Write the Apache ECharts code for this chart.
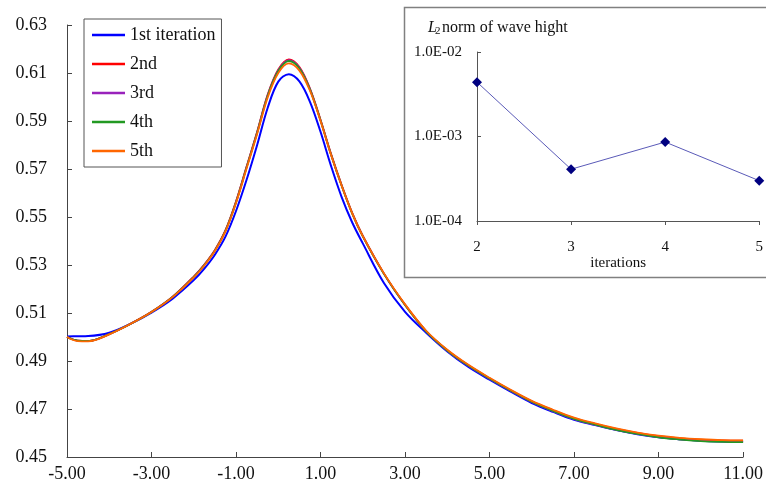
<!DOCTYPE html>
<html>
<head>
<meta charset="utf-8">
<script src="https://cdn.jsdelivr.net/npm/echarts@6/dist/echarts.min.js"></script>
<style>html,body{margin:0;padding:0;background:#fff;}#c{width:766px;height:502px;}</style>
</head>
<body>
<div id="c"></div>
<script>
// ---- main chart data ----
const xs = [-5, -4.75, -4.5, -4, -3.5, -3, -2.5, -2, -1.75, -1.5, -1.25, -1, -0.75, -0.5, -0.25, 0, 0.25, 0.5, 0.75, 1, 1.25, 1.5, 1.75, 2, 2.5, 3, 3.5, 4, 4.5, 5, 5.5, 6, 6.5, 7, 7.5, 8, 8.5, 9, 9.5, 10, 10.5, 11];
const iter1 = [0.5002, 0.5003, 0.5004, 0.5018, 0.5055, 0.5102, 0.5160, 0.5237, 0.5285, 0.5343, 0.5418, 0.5525, 0.5655, 0.5800, 0.5955, 0.6064, 0.6095, 0.6065, 0.5980, 0.5855, 0.5712, 0.5583, 0.5477, 0.5390, 0.5225, 0.5105, 0.5018, 0.4940, 0.4875, 0.4822, 0.4772, 0.4725, 0.4688, 0.4655, 0.4633, 0.4612, 0.4595, 0.4582, 0.4574, 0.4568, 0.4565, 0.4564];
const iter2 = [0.5000, 0.4985, 0.4983, 0.5012, 0.5055, 0.5105, 0.5168, 0.5252, 0.5302, 0.5363, 0.5445, 0.5565, 0.5710, 0.5855, 0.6010, 0.6115, 0.6157, 0.6125, 0.6035, 0.5905, 0.5762, 0.5633, 0.5517, 0.5422, 0.5265, 0.5135, 0.5025, 0.4945, 0.4882, 0.4828, 0.4778, 0.4732, 0.4695, 0.4662, 0.4638, 0.4617, 0.4600, 0.4587, 0.4578, 0.4572, 0.4569, 0.4568];
const iter3 = [0.5000, 0.4985, 0.4983, 0.5012, 0.5054, 0.5104, 0.5167, 0.5251, 0.5301, 0.5361, 0.5443, 0.5563, 0.5708, 0.5853, 0.6008, 0.6112, 0.6154, 0.6122, 0.6033, 0.5903, 0.5760, 0.5631, 0.5515, 0.5420, 0.5263, 0.5133, 0.5023, 0.4943, 0.4880, 0.4826, 0.4776, 0.4729, 0.4691, 0.4658, 0.4634, 0.4613, 0.4596, 0.4583, 0.4574, 0.4568, 0.4565, 0.4564];
const iter4 = [0.5000, 0.4985, 0.4983, 0.5012, 0.5054, 0.5104, 0.5167, 0.5250, 0.5300, 0.5360, 0.5442, 0.5561, 0.5706, 0.5851, 0.6005, 0.6108, 0.6150, 0.6119, 0.6031, 0.5902, 0.5759, 0.5630, 0.5514, 0.5419, 0.5263, 0.5133, 0.5023, 0.4944, 0.4881, 0.4827, 0.4777, 0.4730, 0.4692, 0.4659, 0.4635, 0.4613, 0.4596, 0.4582, 0.4573, 0.4566, 0.4563, 0.4562];
const iter5 = [0.5000, 0.4983, 0.4982, 0.5011, 0.5054, 0.5104, 0.5166, 0.5248, 0.5298, 0.5358, 0.5440, 0.5558, 0.5702, 0.5846, 0.5998, 0.6100, 0.6140, 0.6110, 0.6026, 0.5900, 0.5758, 0.5630, 0.5515, 0.5420, 0.5265, 0.5136, 0.5026, 0.4947, 0.4884, 0.4830, 0.4780, 0.4734, 0.4697, 0.4664, 0.4640, 0.4619, 0.4602, 0.4589, 0.4580, 0.4574, 0.4570, 0.4569];
const seriesNames = ['1st iteration', '2nd', '3rd', '4th', '5th'];
const seriesColors = ['#0000ff', '#ff0000', '#9922bb', '#229922', '#ff6600'];
// ---- inset data ----
const iterNums = [2, 3, 4, 5];
const l2norm = [0.0044, 0.00041, 0.00086, 0.00030];

const FONT = 'Liberation Serif';
const allSeries = [iter1, iter2, iter3, iter4, iter5];

function expLabel(v) {
  const e = Math.round(Math.log10(v));
  const m = v / Math.pow(10, e);
  return m.toFixed(1) + 'E' + (e < 0 ? '-' : '+') + String(Math.abs(e)).padStart(2, '0');
}

const chart = echarts.init(document.getElementById('c'), null, {renderer: 'canvas'});
const mainSeries = allSeries.map((arr, i) => ({
  name: seriesNames[i],
  type: 'line',
  xAxisIndex: 0, yAxisIndex: 0,
  data: xs.map((x, j) => [x, arr[j]]),
  smooth: 0.35,
  symbol: 'none',
  lineStyle: {color: seriesColors[i], width: i === 0 ? 2 : 1.8},
  itemStyle: {color: seriesColors[i]},
  z: 3 + i
}));

chart.setOption({
  animation: false,
  backgroundColor: '#fff',
  textStyle: {fontFamily: FONT},
  grid: [
    {left: 67, right: 18, top: 25, bottom: 45},
    {left: 477, right: 4, top: 52, bottom: 281}
  ],
  xAxis: [
    {
      type: 'value', gridIndex: 0, min: -5, max: 11, interval: 2,
      axisLine: {onZero: false, lineStyle: {color: '#444', width: 1}},
      axisTick: {inside: true, length: 5, lineStyle: {color: '#444'}},
      axisLabel: {formatter: v => v.toFixed(2), color: '#111', fontSize: 18, fontFamily: FONT, margin: 8},
      splitLine: {show: false}
    },
    {
      type: 'value', gridIndex: 1, min: 2, max: 5, interval: 1,
      name: 'iterations', nameLocation: 'middle', nameGap: 31,
      nameTextStyle: {color: '#111', fontSize: 15, fontFamily: FONT},
      axisLine: {show: true, onZero: false, lineStyle: {color: '#555', width: 1}},
      axisTick: {show: true, inside: false, length: 4, lineStyle: {color: '#555'}},
      axisLabel: {show: true, color: '#111', fontSize: 15, fontFamily: FONT, margin: 19},
      splitLine: {show: false}
    }
  ],
  yAxis: [
    {
      type: 'value', gridIndex: 0, min: 0.45, max: 0.63, interval: 0.02,
      axisLine: {show: true, onZero: false, lineStyle: {color: '#444', width: 1}},
      axisTick: {show: true, inside: true, length: 5, lineStyle: {color: '#444'}},
      axisLabel: {formatter: v => v.toFixed(2), color: '#111', fontSize: 18, fontFamily: FONT, margin: 20},
      splitLine: {show: false}
    },
    {
      type: 'log', gridIndex: 1, logBase: 10, min: 0.0001, max: 0.01,
      axisLine: {show: true, onZero: false, lineStyle: {color: '#555', width: 1}},
      axisTick: {show: true, inside: true, length: 4, lineStyle: {color: '#555'}},
      axisLabel: {show: true, formatter: expLabel, color: '#111', fontSize: 15, fontFamily: FONT, margin: 15},
      splitLine: {show: false},
      minorTick: {show: false}
    }
  ],
  legend: {
    data: seriesNames,
    orient: 'vertical',
    left: 84, top: 19,
    padding: [6, 6, 6, 8],
    icon: 'rect',
    itemWidth: 33, itemHeight: 2.5, itemGap: 9,
    borderColor: '#555', borderWidth: 1,
    backgroundColor: '#fff',
    textStyle: {fontSize: 18, fontFamily: FONT, color: '#111', lineHeight: 20},
    z: 10
  },
  graphic: [
    {type: 'rect', z: -1, silent: true, shape: {x: 404.5, y: 7.5, width: 370, height: 270},
     style: {fill: '#fff', stroke: '#808080', lineWidth: 1.5}},
    {type: 'text', z: 20, x: 428, y: 20, style: {text: 'L', font: 'italic 16px "Liberation Serif"', fill: '#111'}},
    {type: 'text', z: 20, x: 435, y: 26, style: {text: '2', font: '11px "Liberation Serif"', fill: '#111'}},
    {type: 'text', z: 20, x: 442, y: 20, style: {text: 'norm of wave hight', font: '16px "Liberation Serif"', fill: '#111'}}
  ],
  series: mainSeries.concat([{
    name: 'L2 norm',
    type: 'line',
    xAxisIndex: 1, yAxisIndex: 1,
    data: iterNums.map((x, j) => [x, l2norm[j]]),
    symbol: 'diamond', symbolSize: 10,
    lineStyle: {color: '#5a5ab8', width: 1},
    itemStyle: {color: '#000080'},
    z: 20
  }])
});
</script>
</body>
</html>
